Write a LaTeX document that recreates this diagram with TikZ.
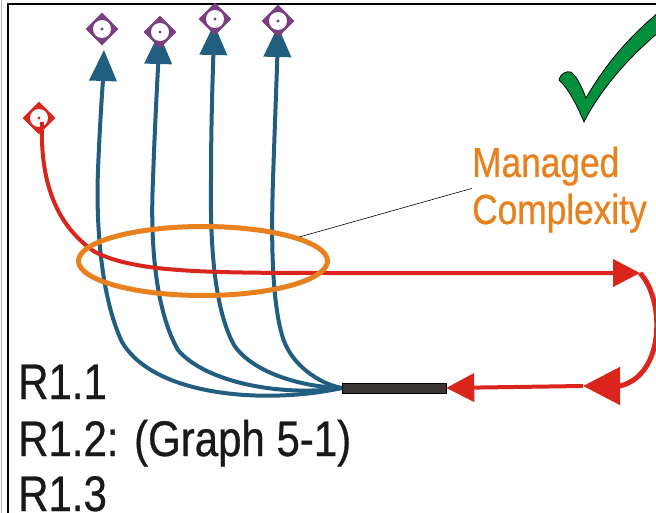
\documentclass[tikz,border=0pt]{standalone}
\usepackage{fontspec}
\setmainfont{Liberation Sans}[FakeStretch=0.84, FakeBold=0.6]
\usepackage{xcolor}
\usetikzlibrary{arrows.meta, shapes.geometric}

\definecolor{flowblue}{HTML}{215E80}
\definecolor{flowred}{HTML}{DA251D}
\definecolor{zoneorange}{HTML}{E8801E}
\definecolor{targetpurple}{HTML}{7B3F7F}
\definecolor{checkgreen}{HTML}{00903E}
\definecolor{barfill}{HTML}{3A3535}

\begin{document}
\begin{tikzpicture}[x=1pt, y=-1pt,
    flow/.style={draw=flowblue, line width=4pt, -{Triangle[length=31pt, width=27pt]}},
    redflow/.style={draw=flowred, line width=4pt},
    target/.style={diamond, fill=#1, minimum size=33pt, inner sep=0pt,
        path picture={\fill[white] (path picture bounding box.center) circle (9pt);
                      \fill[#1] (path picture bounding box.center) circle (1.7pt);}},
    bar/.style={fill=barfill, draw=black, line width=0.4pt, minimum width=104pt, minimum height=10pt, inner sep=0pt},
    req/.style={inner sep=0pt, text=black!90, font=\fontsize{50}{60}\selectfont},
    note/.style={inner sep=0pt, text=zoneorange, font=\fontsize{42}{46}\selectfont}]
        \useasboundingbox (0,0) rectangle (656,513);
        \clip (0,0) rectangle (656,513);
        \draw[gray!60, line width=1pt] (1.5,0) -- (1.5,513);
        \draw[line width=1.2pt] (8,513) -- (8,4) -- (656,4);

        \coordinate (tipA) at (104,50);
        \coordinate (tipB) at (159,33);
        \coordinate (tipC) at (214,24);
        \coordinate (tipD) at (278,26);
        \coordinate (redstart) at (42,122);
        \coordinate (turn) at (640,273);
        \coordinate (back) at (583,386);

        \node[bar] (bar) at (394,388) {};

        \draw[flow] (bar.west) .. controls (270,404) and (155,398) .. (122,342)
            .. controls (100,295) and (96,220) .. (98,170) .. controls (100,120) and (103,80) .. (tipA);
        \draw[flow] (bar.west) .. controls (280,397) and (205,382) .. (178,350)
            .. controls (155,310) and (150,240) .. (153,180) .. controls (155,120) and (158,70) .. (tipB);
        \draw[flow] (bar.west) .. controls (300,387) and (252,372) .. (234,345)
            .. controls (215,310) and (210,250) .. (211,180) .. controls (211,120) and (213,70) .. (tipC);
        \draw[flow] (bar.west) .. controls (320,384) and (290,365) .. (282,335)
            .. controls (272,300) and (271,240) .. (273,180) .. controls (275,120) and (277,70) .. (tipD);

        \node[target=targetpurple] (goalA) at (102,29) {};
        \node[target=targetpurple] (goalB) at (160,32) {};
        \node[target=targetpurple] (goalC) at (215,19) {};
        \node[target=targetpurple] (goalD) at (278,21) {};
        \node[target=flowred] (origin) at (39,118) {};

        \draw[redflow, -{Triangle[length=27pt, width=27pt]}] (redstart) .. controls (40,180) and (55,225) .. (95,252)
            .. controls (135,272) and (200,273) .. (330,273) -- (turn);
        \draw[redflow, line width=5pt, -{Triangle[length=37pt, width=37pt]}] (turn) .. controls (665,300) and (665,375) .. (620,386) -- (back);
        \draw[redflow, -{Triangle[length=28pt, width=28pt]}] (back) -- (bar.east);

        \node[draw=zoneorange, line width=5pt, ellipse, minimum width=249pt, minimum height=69pt, inner sep=0pt] (zone) at (203,261) {};

        \node[note, anchor=base west] (managed) at (472,177) {Managed};
        \node[note, anchor=base west] (complexity) at (472,224) {Complexity};
        \draw[line width=0.6pt] (zone.14) -- ([yshift=5pt]complexity.north west);

        \fill[checkgreen, draw=black, line width=0.8pt] (559,80) .. controls (561,73) and (566,71) .. (571,72)
            .. controls (578,78) and (582,88) .. (586,98) .. controls (605,65) and (630,35) .. (664,8)
            -- (664,28) .. controls (630,55) and (600,90) .. (584,122) .. controls (577,105) and (568,88) .. cycle;

        \node[req, anchor=base west] (reqA) at (18,399) {R1.1};
        \node[req, anchor=base west] (reqB) at (18,456) {R1.2: (Graph 5-1)};
        \node[req, anchor=base west] (reqC) at (18,511) {R1.3};
    \end{tikzpicture}
\end{document}
